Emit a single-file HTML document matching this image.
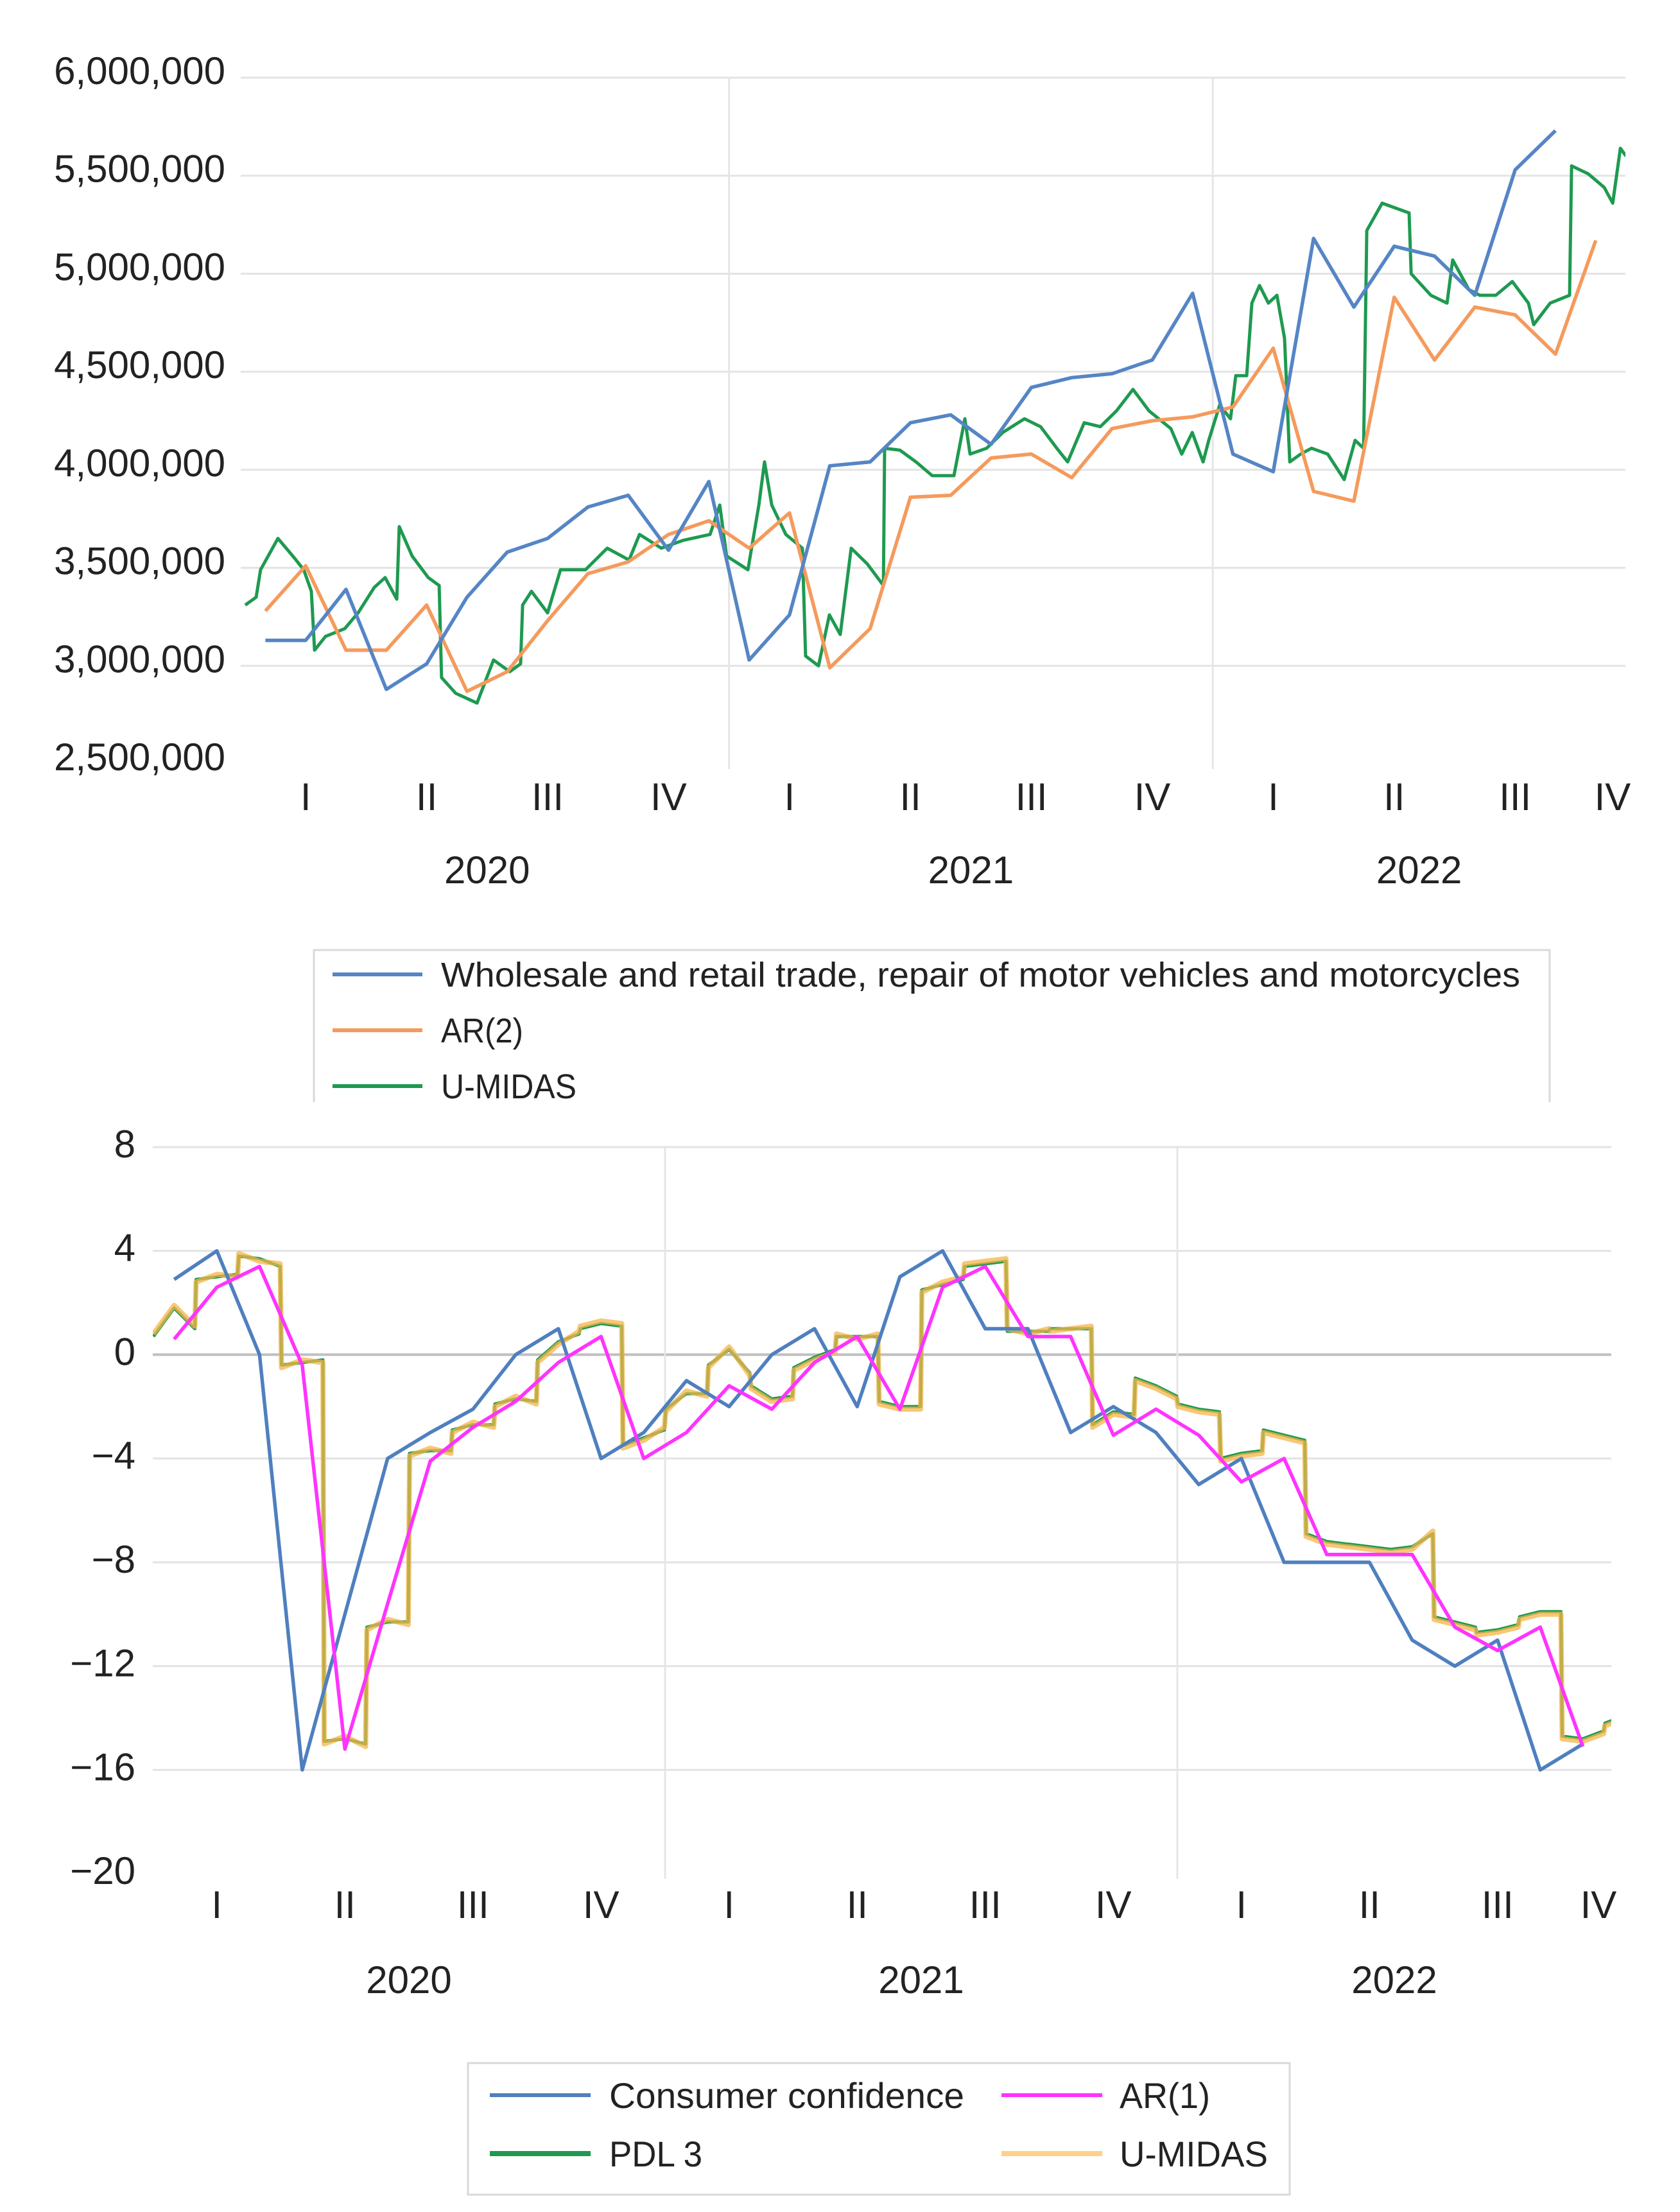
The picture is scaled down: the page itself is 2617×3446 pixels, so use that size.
<!DOCTYPE html>
<html><head><meta charset="utf-8"><style>
html,body{margin:0;padding:0;background:#fff;}
svg{display:block;font-family:"Liberation Sans",sans-serif;}
</style></head><body>
<svg id="s" width="2617" height="3446" viewBox="0 0 2617 3446" xmlns="http://www.w3.org/2000/svg">
<defs>
<clipPath id="c1"><rect x="375" y="100" width="2157" height="1100"/></clipPath>
<clipPath id="c2"><rect x="238" y="1760" width="2272" height="1160"/></clipPath>
</defs>
<g id="top"></g>
<g id="bot"></g>
<!-- top legend -->
<g>
<path d="M489,1717 V1480 H2414 V1717" fill="none" stroke="#d9d9d9" stroke-width="3"/>
<line x1="518" y1="1518" x2="658" y2="1518" stroke="#5585c5" stroke-width="6"/>
<text x="687" y="1537" font-size="54" fill="#222" textLength="1681" lengthAdjust="spacingAndGlyphs">Wholesale and retail trade, repair of motor vehicles and motorcycles</text>
<line x1="518" y1="1605" x2="658" y2="1605" stroke="#f59a5c" stroke-width="6"/>
<text x="687" y="1624" font-size="54" fill="#222" textLength="128" lengthAdjust="spacingAndGlyphs">AR(2)</text>
<line x1="518" y1="1692" x2="658" y2="1692" stroke="#1e9a50" stroke-width="6"/>
<text x="687" y="1711" font-size="54" fill="#222" textLength="211" lengthAdjust="spacingAndGlyphs">U-MIDAS</text>
</g>
<rect x="0" y="1735" width="2617" height="12" fill="#fff"/>
<!-- bottom legend -->
<g>
<rect x="729" y="3214" width="1280" height="205" fill="none" stroke="#d9d9d9" stroke-width="3"/>
<line x1="763" y1="3264" x2="920" y2="3264" stroke="#4f7fbf" stroke-width="6"/>
<text x="949" y="3284" font-size="56" fill="#222" textLength="553" lengthAdjust="spacingAndGlyphs">Consumer confidence</text>
<line x1="1560" y1="3264" x2="1717" y2="3264" stroke="#ff33ff" stroke-width="6"/>
<text x="1744" y="3284" font-size="56" fill="#222" textLength="141" lengthAdjust="spacingAndGlyphs">AR(1)</text>
<line x1="763" y1="3355" x2="920" y2="3355" stroke="#1e9a50" stroke-width="8"/>
<text x="949" y="3375" font-size="56" fill="#222" textLength="145" lengthAdjust="spacingAndGlyphs">PDL 3</text>
<line x1="1560" y1="3355" x2="1717" y2="3355" stroke="#ffd08a" stroke-width="8"/>
<text x="1744" y="3375" font-size="56" fill="#222" textLength="231" lengthAdjust="spacingAndGlyphs">U-MIDAS</text>
</g>
</svg>
<script>
// ---------- TOP CHART DATA (millions) ----------
const topYTicks = [2.5,3.0,3.5,4.0,4.5,5.0,5.5,6.0];
const topYLabels = ["2,500,000","3,000,000","3,500,000","4,000,000","4,500,000","5,000,000","5,500,000","6,000,000"];
const quarterLabels = ["I","II","III","IV","I","II","III","IV","I","II","III","IV"];
const yearLabels = ["2020","2021","2022"];
const topBlue = [3.13,3.13,3.39,2.88,3.01,3.35,3.58,3.65,3.81,3.87,3.59,3.94,3.03,3.26,4.02,4.04,4.24,4.28,4.13,4.42,4.47,4.49,4.56,4.90,4.08,3.99,5.18,4.83,5.14,5.09,4.89,5.53,5.73];
const topAR2 = [3.28,3.51,3.08,3.08,3.31,2.87,2.97,3.23,3.47,3.53,3.67,3.74,3.60,3.78,2.99,3.19,3.86,3.87,4.06,4.08,3.96,4.21,4.25,4.27,4.32,4.62,3.89,3.84,4.88,4.56,4.83,4.79,4.59,5.17];
const topMidasT = [0,0.27,0.38,0.81,1.18,1.45,1.64,1.72,1.99,2.47,2.8,3.2,3.47,3.76,3.82,4.14,4.54,4.81,4.87,5.22,5.75,6.16,6.56,6.83,6.88,7.1,7.5,7.82,8.44,8.98,9.52,9.78,10.32,10.86,11.53,11.77,11.94,12.47,12.74,12.88,13.06,13.41,13.82,13.9,14.22,14.49,14.76,15.03,15.43,15.83,15.86,16.24,16.64,17.04,17.58,17.85,17.98,18.39,18.79,19.33,19.73,20.13,20.4,20.81,21.21,21.61,22.02,22.42,22.96,23.23,23.49,23.76,23.9,24.17,24.44,24.57,24.84,24.97,25.16,25.38,25.59,25.78,25.91,26.18,26.45,26.85,27.26,27.53,27.74,27.82,28.2,28.6,28.87,28.92,29.41,29.81,29.95,30.35,30.62,31.02,31.43,31.83,31.96,32.37,32.85,32.9,33.31,33.71,33.92,34.11,34.25];
const topMidasV = [3.31,3.35,3.49,3.65,3.56,3.49,3.38,3.08,3.15,3.19,3.27,3.4,3.45,3.34,3.71,3.56,3.45,3.41,2.94,2.86,2.81,3.03,2.97,3.01,3.31,3.38,3.27,3.49,3.49,3.6,3.54,3.67,3.6,3.64,3.67,3.82,3.56,3.49,3.82,4.04,3.82,3.67,3.6,3.05,3.0,3.26,3.16,3.6,3.52,3.41,4.11,4.1,4.04,3.97,3.97,4.26,4.08,4.11,4.19,4.26,4.22,4.11,4.04,4.24,4.22,4.3,4.41,4.3,4.21,4.08,4.19,4.04,4.15,4.33,4.26,4.48,4.48,4.85,4.94,4.85,4.89,4.67,4.04,4.08,4.11,4.08,3.95,4.15,4.11,5.22,5.36,5.33,5.31,5.0,4.89,4.85,5.07,4.92,4.89,4.89,4.96,4.85,4.74,4.85,4.89,5.55,5.51,5.44,5.36,5.64,5.6];
// ---------- BOTTOM CHART DATA ----------
const botYTicks = [-20,-16,-12,-8,-4,0,4,8];
const botYLabels = ["\u221220","\u221216","\u221212","\u22128","\u22124","0","4","8"];
const botCC = [2.9,4,0,-16,-10,-4,-3,-2.1,0,1,-4,-3,-1,-2,0,1,-2,3,4,1,1,-3,-2,-3,-5,-4,-8,-8,-8,-11,-12,-11,-16,-15];
const botAR1 = [0.6,2.6,3.4,-0.4,-15.2,-9.6,-4.1,-2.8,-1.8,-0.3,0.7,-4,-3,-1.2,-2.1,-0.3,0.7,-2.1,2.6,3.4,0.7,0.7,-3.1,-2.1,-3.1,-4.9,-4.0,-7.7,-7.7,-7.7,-10.5,-11.4,-10.5,-15.1];
const botMidas = [[0.8,1.9,1.1],[2.8,3.1,3.0],[3.9,3.6,3.5],[-0.5,-0.2,-0.3],[-15.0,-14.7,-15.1],[-10.6,-10.2,-10.4],[-3.9,-3.6,-3.8],[-3.0,-2.6,-2.8],[-2.0,-1.6,-1.9],[-0.3,0.4,0.9],[1.1,1.3,1.2],[-3.6,-3.3,-2.8],[-2.2,-1.4,-1.6],[-0.5,0.3,-0.8],[-1.3,-1.8,-1.7],[-0.6,-0.2,0.1],[0.8,0.6,0.8],[-1.9,-2.1,-2.1],[2.4,2.8,3.0],[3.5,3.6,3.7],[1.0,0.8,1.0],[0.9,1.0,1.1],[-2.8,-2.3,-2.4],[-1.0,-1.3,-1.7],[-2.0,-2.2,-2.3],[-4.1,-3.9,-3.8],[-3.0,-3.2,-3.4],[-7.0,-7.3,-7.4],[-7.4,-7.5,-7.6],[-7.6,-7.5,-6.8],[-10.2,-10.4,-10.6],[-10.8,-10.7,-10.5],[-10.2,-10.0,-10.0],[-14.8,-14.9,-14.6],[-14.3,-14.0,-14.0]];
const botPDL = [[0.7,1.8,1.0],[2.9,3.0,3.1],[3.8,3.7,3.4],[-0.4,-0.3,-0.2],[-14.9,-14.8,-15.0],[-10.5,-10.3,-10.3],[-3.8,-3.7,-3.7],[-2.9,-2.7,-2.7],[-1.9,-1.7,-1.8],[-0.2,0.5,0.8],[1.0,1.2,1.1],[-3.5,-3.2,-2.9],[-2.1,-1.5,-1.5],[-0.4,0.2,-0.7],[-1.2,-1.7,-1.6],[-0.5,-0.1,0.2],[0.7,0.7,0.7],[-1.8,-2.0,-2.0],[2.5,2.7,2.9],[3.4,3.5,3.6],[0.9,0.9,0.9],[1.0,1.0,1.0],[-2.7,-2.2,-2.3],[-0.9,-1.2,-1.6],[-1.9,-2.1,-2.2],[-4.0,-3.8,-3.7],[-2.9,-3.1,-3.3],[-6.9,-7.2,-7.3],[-7.3,-7.4,-7.5],[-7.5,-7.4,-6.9],[-10.1,-10.3,-10.5],[-10.7,-10.6,-10.4],[-10.1,-9.9,-9.9],[-14.7,-14.8,-14.5],[-14.2,-13.9,-13.9]];

const NS="http://www.w3.org/2000/svg";
function mk(tag,attrs,parent){const e=document.createElementNS(NS,tag);for(const k in attrs)e.setAttribute(k,attrs[k]);parent.appendChild(e);return e;}

function drawChart(g,cfg){
  const xs=t=>cfg.x0+t*cfg.dx;
  const ys=v=>cfg.yBot-(v-cfg.vMin)/(cfg.vMax-cfg.vMin)*(cfg.yBot-cfg.yTop);
  cfg.yTicks.forEach((v,i)=>{
    if(i>0){
      const l=mk('line',{x1:cfg.left,x2:cfg.right,y1:ys(v),y2:ys(v),stroke:(v===0&&cfg.zeroDark)?'#bfbfbf':'#e3e3e3','stroke-width':(v===0&&cfg.zeroDark)?4:3},g);
      
      
    }
    const t=mk('text',{x:cfg.labelRight,y:ys(v)+cfg.lblOff,'font-size':cfg.fs,'text-anchor':'end',fill:'#222'},g);
    t.textContent=cfg.yLabels[i];
    
    
  });
  [12,24].forEach(m=>{
    const l=mk('line',{x1:xs(m),x2:xs(m),y1:cfg.yTop,y2:cfg.yBot+8,stroke:'#e6e6e6','stroke-width':3},g);
    
    
  });
  quarterLabels.forEach((q,i)=>{
    let x=xs(1.5+3*i); if(x>cfg.right-20)x=cfg.right-20;
    const t=mk('text',{x:x,y:cfg.qY,'font-size':cfg.fs,'text-anchor':'middle',fill:'#222'},g);
    t.textContent=q;
    
    
  });
  const tEnd=(cfg.right-cfg.x0)/cfg.dx;
  yearLabels.forEach((y,i)=>{
    const a=12*i,b=Math.min(12*i+12,tEnd);
    const t=mk('text',{x:xs((a+b)/2),y:cfg.yrY,'font-size':cfg.fs,'text-anchor':'middle',fill:'#222'},g);
    t.textContent=y;
    
    
  });
  const pg=mk('g',{'clip-path':cfg.clip},g);
  return {xs,ys,pg};
}
function poly(pg,pts,color,w,name,op){
  const p=mk('polyline',{points:pts.map(p=>p[0].toFixed(1)+','+p[1].toFixed(1)).join(' '),fill:'none',stroke:color,'stroke-width':w,'stroke-linejoin':'round','stroke-opacity':op||1},pg);
  
  
}
function stepPts(arr,A){
  const pts=[];
  arr.forEach((vals,m)=>{const n=vals.length;vals.forEach((v,k)=>{pts.push([A.xs(m+k/(n-1)*0.97+0.015),A.ys(v)]);});});
  return pts;
}
// top
const gTop=document.getElementById('top');
const A=drawChart(gTop,{x0:382,dx:62.8,left:375,right:2532,yTop:121,yBot:1190,vMin:2.5,vMax:6.0,yTicks:topYTicks,yLabels:topYLabels,labelRight:351,fs:60,lblOff:10,qY:1262,yrY:1376,clip:'url(#c1)',zeroDark:false});
poly(A.pg,topMidasT.map((t,i)=>[A.xs(t),A.ys(topMidasV[i])]),'#1e9a50',5,'u-midas-line');
poly(A.pg,topAR2.map((v,i)=>[A.xs(i+0.5),A.ys(v)]),'#f59a5c',5.5,'ar2-line');
poly(A.pg,topBlue.map((v,i)=>[A.xs(i+0.5),A.ys(v)]),'#5585c5',5.5,'wholesale-retail-line');
// bottom
const gBot=document.getElementById('bot');
const B=drawChart(gBot,{x0:238,dx:66.5,left:238,right:2510,yTop:1787,yBot:2919,vMin:-20,vMax:8,yTicks:botYTicks,yLabels:botYLabels,labelRight:211,fs:60,lblOff:16,qY:2988,yrY:3105,clip:'url(#c2)',zeroDark:true});
poly(B.pg,stepPts(botPDL,B),'#1e9a50',5,'pdl3-line');
poly(B.pg,stepPts(botMidas,B),'#f5b448',8,'u-midas-line',0.75);
poly(B.pg,botCC.map((v,i)=>[B.xs(i+0.5),B.ys(v)]),'#4f7fbf',5.5,'consumer-confidence-line');
poly(B.pg,botAR1.map((v,i)=>[B.xs(i+0.5),B.ys(v)]),'#ff33ff',5.5,'ar1-line');
</script>
</body></html>
